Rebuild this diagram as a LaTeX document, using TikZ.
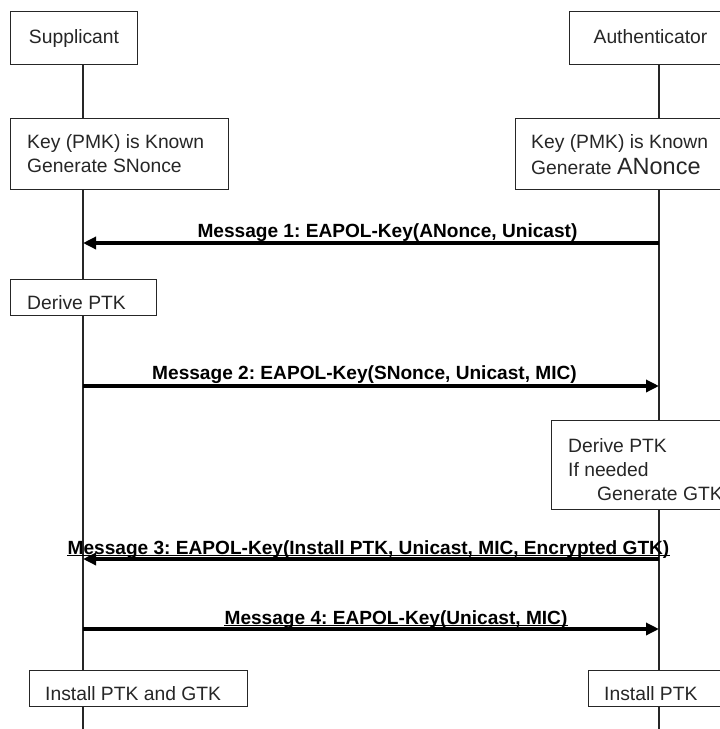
\documentclass[tikz,border=0pt]{standalone}
\usepackage{fontspec}
\setmainfont{Liberation Sans}
\usetikzlibrary{arrows.meta,backgrounds}
\frenchspacing

\begin{document}
\begin{tikzpicture}[x=1pt,y=-1pt,
  box/.style={draw=black!85, line width=1.4pt, fill=white, inner sep=0pt, anchor=north west},
  txt/.style={anchor=base west, inner sep=0pt, text=black!85, font=\fontsize{19.3}{24}\selectfont},
  lbl/.style={anchor=base, inner sep=0pt, font=\bfseries\fontsize{19.1}{24}\selectfont},
  life/.style={draw=black!85, line width=1.6pt},
  msg/.style={line width=3.4pt, -{Triangle[length=13pt,width=12pt]}},
  uline/.style={line width=0.9pt}]

\clip (0,0) rectangle (720,729);
\useasboundingbox (0,0) rectangle (720,729);

% lifeline end points
\coordinate (supEnd) at (83,729);
\coordinate (autEnd) at (659,729);

% participants
\node[box, minimum width=127pt, minimum height=53pt] (sup) at (10,11) {};
\node[txt, anchor=base] (supT) at (74,43) {Supplicant};
\node[box, minimum width=163pt, minimum height=53pt] (aut) at (569,11) {};
\node[txt, anchor=base] (autT) at (650.5,43) {Authenticator};

% initial state
\node[box, minimum width=218pt, minimum height=71pt] (skey) at (10,118) {};
\node[txt] (skey1) at (27,148) {Key (PMK) is Known};
\node[txt] (skey2) at (27,172) {Generate SNonce};
\node[box, minimum width=220pt, minimum height=71pt] (akey) at (515,118) {};
\node[txt] (akey1) at (531,148) {Key (PMK) is Known};
\node[txt] (akey2) at (531,174) {Generate {\fontsize{23.5}{24}\selectfont ANonce}};

% message 1
\coordinate (m1a) at (659,243);
\coordinate (m1s) at (83,243);
\draw[msg] (m1a) -- (m1s);
\node[lbl] (m1) at (387.5,237) {Message 1: EAPOL-Key(ANonce, Unicast)};

% supplicant derives PTK
\node[box, minimum width=146pt, minimum height=36pt] (sder) at (10,279) {};
\node[txt] (sderT) at (27,309) {Derive PTK};

% message 2
\coordinate (m2s) at (83,386);
\coordinate (m2a) at (659,386);
\draw[msg] (m2s) -- (m2a);
\node[lbl] (m2) at (364.5,379) {Message 2: EAPOL-Key(SNonce, Unicast, MIC)};

% authenticator derives PTK
\node[box, minimum width=184pt, minimum height=89pt] (ader) at (551,420) {};
\node[txt] (ader1) at (568,452) {Derive PTK};
\node[txt] (ader2) at (568,476) {If needed};
\node[txt] (ader3) at (597,500) {Generate GTK};

% message 3
\coordinate (m3a) at (659,559);
\coordinate (m3s) at (83,559);
\draw[msg] (m3a) -- (m3s);
\node[lbl] (m3) at (368.5,554) {Message 3: EAPOL-Key(Install PTK, Unicast, MIC, Encrypted GTK)};
\draw[uline] ([yshift=-1pt]m3.base west) -- ([yshift=-1pt]m3.base east);

% message 4
\coordinate (m4s) at (83,629);
\coordinate (m4a) at (659,629);
\draw[msg] (m4s) -- (m4a);
\node[lbl] (m4) at (396,624) {Message 4: EAPOL-Key(Unicast, MIC)};
\draw[uline] ([yshift=-1pt]m4.base west) -- ([yshift=-1pt]m4.base east);

% final state
\node[box, minimum width=218pt, minimum height=36pt] (sinst) at (29,670) {};
\node[txt] (sinstT) at (45,700) {Install PTK and GTK};
\node[box, minimum width=147pt, minimum height=36pt] (ainst) at (588,670) {};
\node[txt] (ainstT) at (604,700) {Install PTK};

% lifelines behind everything
\begin{scope}[on background layer]
  \draw[life] (sup.south -| supEnd) -- (supEnd);
  \draw[life] (aut.south -| autEnd) -- (autEnd);
\end{scope}
\end{tikzpicture}
\end{document}
